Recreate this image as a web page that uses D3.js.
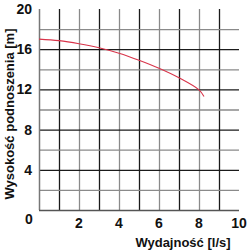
<!DOCTYPE html>
<html>
<head>
<meta charset="utf-8">
<script src="https://cdn.jsdelivr.net/npm/d3@7"></script>
<style>
 body{margin:0;background:#fff}
 text{font-family:"Liberation Sans",Arial,sans-serif;font-weight:bold;fill:#111}
</style>
</head>
<body>
<div id="chart"></div>
<script>
// pump curve
var flow = [0, 1, 2, 3, 4, 5, 6, 7, 8, 8.25];
var head = [17.0, 16.85, 16.55, 16.15, 15.6, 14.9, 14.1, 13.15, 11.95, 11.3];
var xTicks = [2, 4, 6, 8, 10];
var yTicks = [4, 8, 12, 16, 20];
var xGrid = [1, 2, 3, 4, 5, 6, 7, 8, 9];
var yGrid = [2, 4, 6, 8, 10, 12, 14, 16, 18];

var W = 247, H = 251;
var x = d3.scaleLinear().domain([0, 10]).range([39, 239]);
var y = d3.scaleLinear().domain([0, 20]).range([210, 9]);

var svg = d3.select("#chart").append("svg").attr("width", W).attr("height", H);

// grid: odd x and labelled y lines are dark, others grey
svg.selectAll("line.gx").data(xGrid).enter().append("line")
 .attr("x1", d => x(d) + 0.5).attr("x2", d => x(d) + 0.5)
 .attr("y1", y(20)).attr("y2", y(0))
 .attr("stroke", d => d % 2 ? "#1a1a1a" : "#8a8a8a").attr("stroke-width", 1.3);
svg.selectAll("line.gy").data(yGrid).enter().append("line")
 .attr("x1", x(0)).attr("x2", x(10))
 .attr("y1", d => y(d) + 0.5).attr("y2", d => y(d) + 0.5)
 .attr("stroke", d => d % 4 ? "#8a8a8a" : "#1a1a1a").attr("stroke-width", 1.3);

// axes
svg.append("line").attr("x1", x(0) + 0.5).attr("x2", x(0) + 0.5).attr("y1", y(20)).attr("y2", y(0))
 .attr("stroke", "#777").attr("stroke-width", 1.5);
svg.append("line").attr("x1", x(0)).attr("x2", x(10)).attr("y1", y(0) + 0.5).attr("y2", y(0) + 0.5)
 .attr("stroke", "#555").attr("stroke-width", 1.5);

// curve
var line = d3.line().x(d => x(d)).y((d, i) => y(head[i])).curve(d3.curveCatmullRom);
svg.append("path").datum(flow).attr("d", line)
 .attr("fill", "none").attr("stroke", "#d8344a").attr("stroke-width", 1.1);

// tick labels
svg.selectAll("text.xt").data(xTicks).enter().append("text")
 .attr("x", d => x(d)).attr("y", 228).attr("text-anchor", "middle")
 .attr("font-size", 14).text(d => d);
svg.selectAll("text.yt").data(yTicks).enter().append("text")
 .attr("x", 32).attr("y", d => y(d) + 5).attr("text-anchor", "end")
 .attr("font-size", 14).text(d => d);
svg.append("text").attr("x", 29).attr("y", 224).attr("text-anchor", "middle")
 .attr("font-size", 14).text("0");

// axis titles
svg.append("text").attr("x", 183).attr("y", 247).attr("text-anchor", "middle")
 .attr("font-size", 13).text("Wydajność [l/s]");
svg.append("text").attr("transform", "translate(14,114) rotate(-90)")
 .attr("text-anchor", "middle").attr("font-size", 13).text("Wysokość podnoszenia [m]");
</script>
</body>
</html>
